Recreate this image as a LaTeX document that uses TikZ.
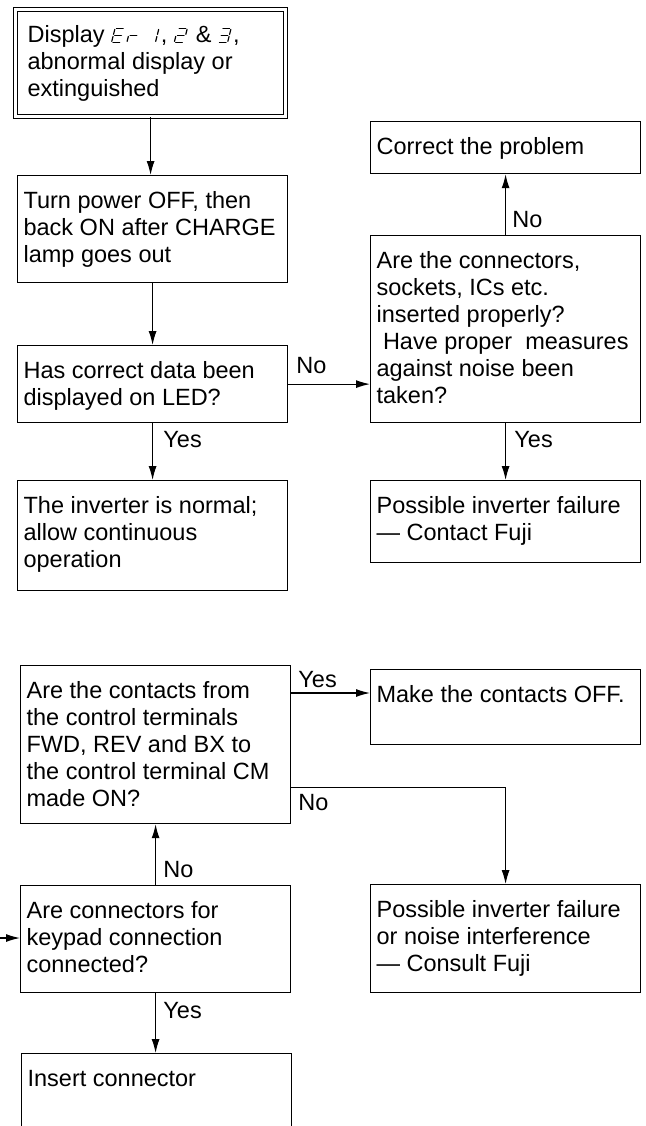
\documentclass[tikz,border=0pt]{standalone}
\usepackage{fontspec}
\setmainfont{Liberation Sans}
\usetikzlibrary{arrows.meta,calc}

% text of a box, top aligned
\newcommand{\boxtext}[3]{\parbox[t][#2][t]{#1}{\raggedright\rule{0pt}{13.4pt}#3}}
% seven segment characters
\newcommand{\ledchar}[1]{\tikz[baseline=0pt,x=2.4pt,y=1.75pt,xslant=0.25,line width=0.6pt,line cap=round]{\path (0,0) rectangle (2.4,4); #1}}
\newcommand{\segA}{\draw (0.3,4) -- (1.7,4);}
\newcommand{\segB}{\draw (2,3.7) -- (2,2.3);}
\newcommand{\segC}{\draw (2,1.7) -- (2,0.3);}
\newcommand{\segD}{\draw (0.3,0) -- (1.7,0);}
\newcommand{\segE}{\draw (0,1.7) -- (0,0.3);}
\newcommand{\segF}{\draw (0,3.7) -- (0,2.3);}
\newcommand{\segG}{\draw (0.3,2) -- (1.7,2);}

\begin{document}
\begin{tikzpicture}[x=0.5pt,y=-0.5pt,
  stepbox/.style={draw, line width=0.6pt, anchor=north west, inner sep=3pt, font=\fontsize{11.75}{13.5}\selectfont},
  arr/.style={line width=0.6pt, -{Latex[length=7pt,width=4pt]}},
  lbl/.style={anchor=base west, inner sep=0pt, font=\fontsize{11.75}{13.5}\selectfont}]
  \useasboundingbox (0,0) rectangle (645,1126);

	\node[stepbox, double, double distance=1.6pt, inner xsep=6pt] (start) at (15,9)
	{\boxtext{123pt}{47.5pt}{Display \ledchar{\segA\segD\segE\segF\segG}\ledchar{\segE\segG}\,\ledchar{\segB\segC}, \ledchar{\segA\segB\segG\segE\segD} \& \ledchar{\segA\segB\segG\segC\segD},\\abnormal display or\\extinguished}};
	\node[stepbox] (power) at (17,175) {\boxtext{129pt}{47.5pt}{Turn power OFF, then\\back ON after CHARGE\\lamp goes out}};
	\node[stepbox] (data) at (17,345) {\boxtext{129pt}{32.5pt}{Has correct data been\\displayed on LED?}};
	\node[stepbox] (normal) at (17,480) {\boxtext{129pt}{49pt}{The inverter is normal;\\allow continuous\\operation}};
	\node[stepbox] (correct) at (370,121) {\boxtext{129pt}{20pt}{Correct the problem}};
	\node[stepbox] (rq) at (370,235) {\boxtext{129pt}{87.5pt}{Are the connectors,\\sockets, ICs etc.\\inserted properly?\\\hspace*{3.2pt}Have proper\ \ measures\\against noise been\\taken?}};
	\node[stepbox] (fail) at (370,480) {\boxtext{129pt}{35pt}{Possible inverter failure\\--- Contact Fuji}};

	\node[stepbox] (contacts) at (20,665) {\boxtext{129pt}{73pt}{Are the contacts from\\the control terminals\\FWD, REV and BX to\\the control terminal CM\\made ON?}};
	\node[stepbox] (make) at (370,669) {\boxtext{129pt}{31.5pt}{Make the contacts OFF.}};
	\node[stepbox] (fail2) at (370,884) {\boxtext{129pt}{48pt}{Possible inverter failure\\or noise interference\\--- Consult Fuji}};
	\node[stepbox] (keypad) at (20,885) {\boxtext{129pt}{47.5pt}{Are connectors for\\keypad connection\\connected?}};
	\node[stepbox] (insert) at (21,1053) {\boxtext{129pt}{100pt}{Insert connector}};

	\coordinate (yesrow) at ($(contacts.north east)+(0,28)$);
	\coordinate (norow) at ($(contacts.south east)+(0,-37)$);
	\coordinate (kin) at (0,938);

	\draw[arr] (start.south) -- (start.south |- power.north);
	\draw[arr] (power.south) -- (power.south |- data.north);
	\draw[arr] (data.east) -- (data.east -| rq.west);
	\draw[arr] (data.south) -- (data.south |- normal.north);
	\draw[arr] (rq.north) -- (rq.north |- correct.south);
	\draw[arr] (rq.south) -- (rq.south |- fail.north);
	\draw[arr] (yesrow) -- (yesrow -| make.west);
	\draw[arr] (norow) -| (fail2.north);
	\draw[arr] (keypad.north) -- (keypad.north |- contacts.south);
	\draw[arr] (kin) -- (kin -| keypad.west);
	\draw[arr] (keypad.south) -- (keypad.south |- insert.north);

	\node[lbl] (noTop) at (512,227) {No};
	\node[lbl] (noData) at (296,373) {No};
	\node[lbl] (yesData) at (163,447) {Yes};
	\node[lbl] (yesRq) at (514,447) {Yes};
	\node[lbl] (yesContacts) at (298,687) {Yes};
	\node[lbl] (noContacts) at (298,810) {No};
	\node[lbl] (noKeypad) at (163,877) {No};
	\node[lbl] (yesKeypad) at (163,1018) {Yes};
\end{tikzpicture}
\end{document}
